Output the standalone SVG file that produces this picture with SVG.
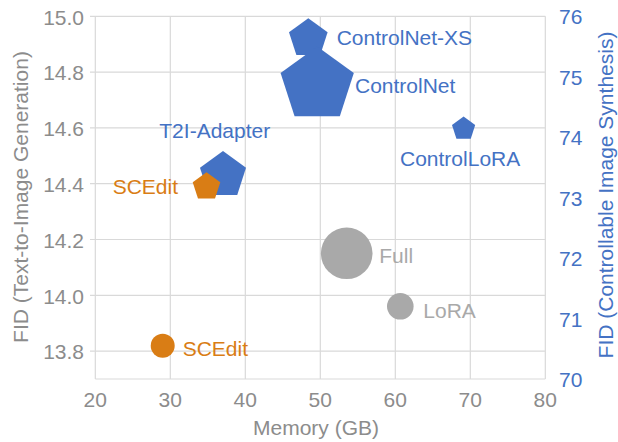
<svg xmlns="http://www.w3.org/2000/svg" width="618" height="442" viewBox="0 0 618 442">
<style>
.grid{stroke:#d9d9d9;stroke-width:1.2;fill:none}
.t{font-family:"Liberation Sans",Arial,sans-serif;font-size:21px}
.g{fill:#8c8c8c}
.b{fill:#4472c4}
.o{fill:#d97d15}
.gy{fill:#a9a9a9}
.ax{fill:#8c8c8c;text-anchor:middle}
.ly{fill:#8c8c8c;text-anchor:end}
</style>
<defs>
<polygon id="pent" points="0,-1 0.9511,-0.309 0.5878,0.809 -0.5878,0.809 -0.9511,-0.309"/>
</defs>
<rect width="618" height="442" fill="#ffffff"/>
<g id="grid">
<path class="grid" d="M95.3,16.3V379M170.3,16.3V379M245.3,16.3V379M320.3,16.3V379M395.3,16.3V379M470.3,16.3V379M545.3,16.3V379"/>
<path class="grid" d="M90,16.3H545.3M90,72.1H545.3M90,127.9H545.3M90,183.7H545.3M90,239.5H545.3M90,295.3H545.3M90,351.1H545.3M95.3,379H545.3"/>
</g>
<g id="axes" class="t">
<text class="ly" x="84" y="24.5">15.0</text>
<text class="ly" x="84" y="80.3">14.8</text>
<text class="ly" x="84" y="136.1">14.6</text>
<text class="ly" x="84" y="191.9">14.4</text>
<text class="ly" x="84" y="247.7">14.2</text>
<text class="ly" x="84" y="303.5">14.0</text>
<text class="ly" x="84" y="359.3">13.8</text>
<text class="ax" x="95.3" y="407">20</text>
<text class="ax" x="170.3" y="407">30</text>
<text class="ax" x="245.3" y="407">40</text>
<text class="ax" x="320.3" y="407">50</text>
<text class="ax" x="395.3" y="407">60</text>
<text class="ax" x="470.3" y="407">70</text>
<text class="ax" x="545.3" y="407">80</text>
<text class="b" x="559" y="24.3">76</text>
<text class="b" x="559" y="84.8">75</text>
<text class="b" x="559" y="145.2">74</text>
<text class="b" x="559" y="205.7">73</text>
<text class="b" x="559" y="266.1">72</text>
<text class="b" x="559" y="326.6">71</text>
<text class="b" x="559" y="387">70</text>
<text class="ax" x="316" y="435">Memory (GB)</text>
<text class="ax" transform="translate(27.5,197) rotate(-90)">FID (Text-to-Image Generation)</text>
<text class="b" text-anchor="middle" transform="translate(612.5,195) rotate(-90)">FID (Controllable Image Synthesis)</text>
</g>
<g id="full"><circle class="gy" cx="346.7" cy="253.3" r="25.8"/><text class="t gy" x="379.3" y="262.7">Full</text></g>
<g id="lora"><circle class="gy" cx="400.3" cy="306.3" r="13.3"/><text class="t gy" x="423.3" y="318.3">LoRA</text></g>
<g id="scedit-t2i"><circle class="o" cx="162.7" cy="345.7" r="12"/><text class="t o" x="182.7" y="355.7">SCEdit</text></g>
<g id="controlnet-xs"><use href="#pent" class="b" transform="translate(308.3,38.6) scale(20.3)"/><text class="t b" x="336.7" y="45">ControlNet-XS</text></g>
<g id="controlnet"><use href="#pent" class="b" transform="translate(317.2,85) scale(38.5)"/><text class="t b" x="355" y="93.3">ControlNet</text></g>
<g id="controllora"><use href="#pent" class="b" transform="translate(463.6,128.8) scale(12.2)"/><text class="t b" x="400" y="165.7">ControlLoRA</text></g>
<g id="t2i-adapter"><use href="#pent" class="b" transform="translate(223,175.3) scale(24.2)"/><text class="t b" x="159.3" y="137.7">T2I-Adapter</text></g>
<g id="scedit-control"><use href="#pent" class="o" transform="translate(206.5,186.8) scale(14.5)"/><text class="t o" x="112.7" y="194.3">SCEdit</text></g>
</svg>
